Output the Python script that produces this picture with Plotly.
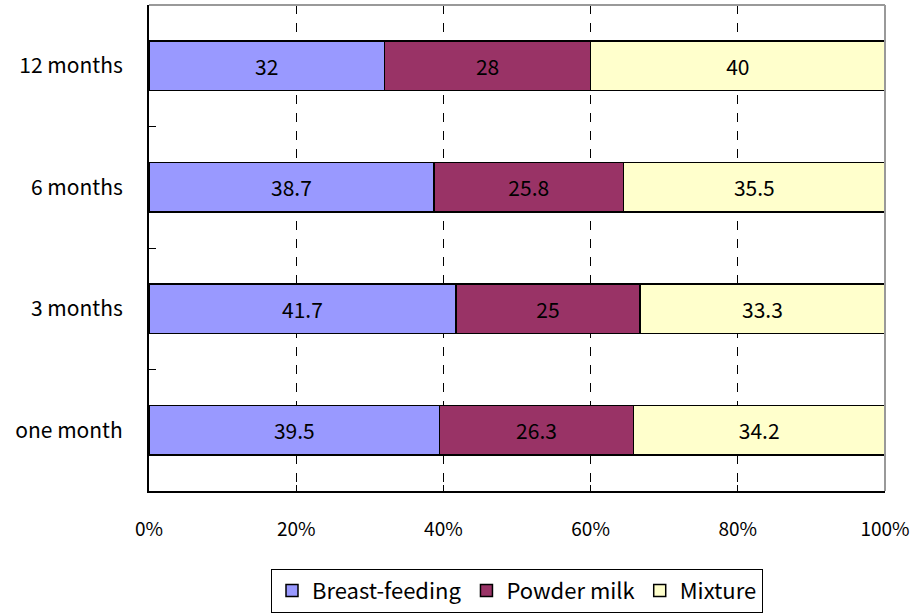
import plotly.graph_objects as go

categories = ["one month", "3 months", "6 months", "12 months"]
breast_feeding = [39.5, 41.7, 38.7, 32]
powder_milk = [26.3, 25, 25.8, 28]
mixture = [34.2, 33.3, 35.5, 40]
x_ticks = [0, 20, 40, 60, 80, 100]

series = [
    ("Breast-feeding", breast_feeding, "#9999FF"),
    ("Powder milk", powder_milk, "#993366"),
    ("Mixture", mixture, "#FFFFCC"),
]

FONT = "Noto Sans CJK KR"
fig = go.Figure()
ypos = list(range(len(categories)))
for name, vals, col in series:
    fig.add_trace(go.Bar(
        y=ypos, x=vals, name=name, orientation="h",
        marker=dict(color=col, line=dict(color="black", width=1.5)),
        text=[str(v) for v in vals], textposition="inside",
        insidetextanchor="middle",
        textfont=dict(color="black", size=21, family=FONT),
        width=0.41,
    ))

fig.update_layout(
    barmode="stack",
    width=910, height=613,
    margin=dict(l=149, r=25, t=5, b=122, autoexpand=False),
    plot_bgcolor="white", paper_bgcolor="white",
    font=dict(family=FONT, size=21, color="black"),
    legend=dict(orientation="h", x=0.5, xanchor="center", y=-0.16, yanchor="top",
                bordercolor="black", borderwidth=1, font=dict(size=22, family=FONT),
                traceorder="normal", itemwidth=30),
    showlegend=True,
    uniformtext=dict(minsize=21, mode="show"),
)
fig.update_xaxes(
    range=[0, 100], tickvals=x_ticks, ticktext=[f"{t}%" for t in x_ticks],
    showgrid=True, gridcolor="black", griddash="dash", gridwidth=1,
    showline=True, linecolor="black", linewidth=2,
    ticks="inside", ticklen=6, tickcolor="black",
    ticklabelstandoff=20, zeroline=False, automargin=False,
    tickfont=dict(size=19),
)
fig.update_yaxes(
    range=[-0.5, 3.5], tickvals=ypos, ticktext=categories,
    showgrid=False, zeroline=False,
    showline=True, linecolor="black", linewidth=2,
    ticks="", ticklabelstandoff=20, automargin=False,
    tickfont=dict(size=21),
    minor=dict(tick0=0.5, dtick=1, ticks="inside", ticklen=7, tickcolor="black", showgrid=False),
)
fig.add_shape(type="line", xref="paper", yref="paper", x0=0, x1=1, y0=1, y1=1,
              line=dict(color="#999999", width=2))
fig.add_shape(type="line", xref="paper", yref="paper", x0=1, x1=1, y0=0, y1=1,
              line=dict(color="#999999", width=2))
fig.write_html("out.html", config={"displayModeBar": False},
               post_script="document.body.style.margin='0px';")
